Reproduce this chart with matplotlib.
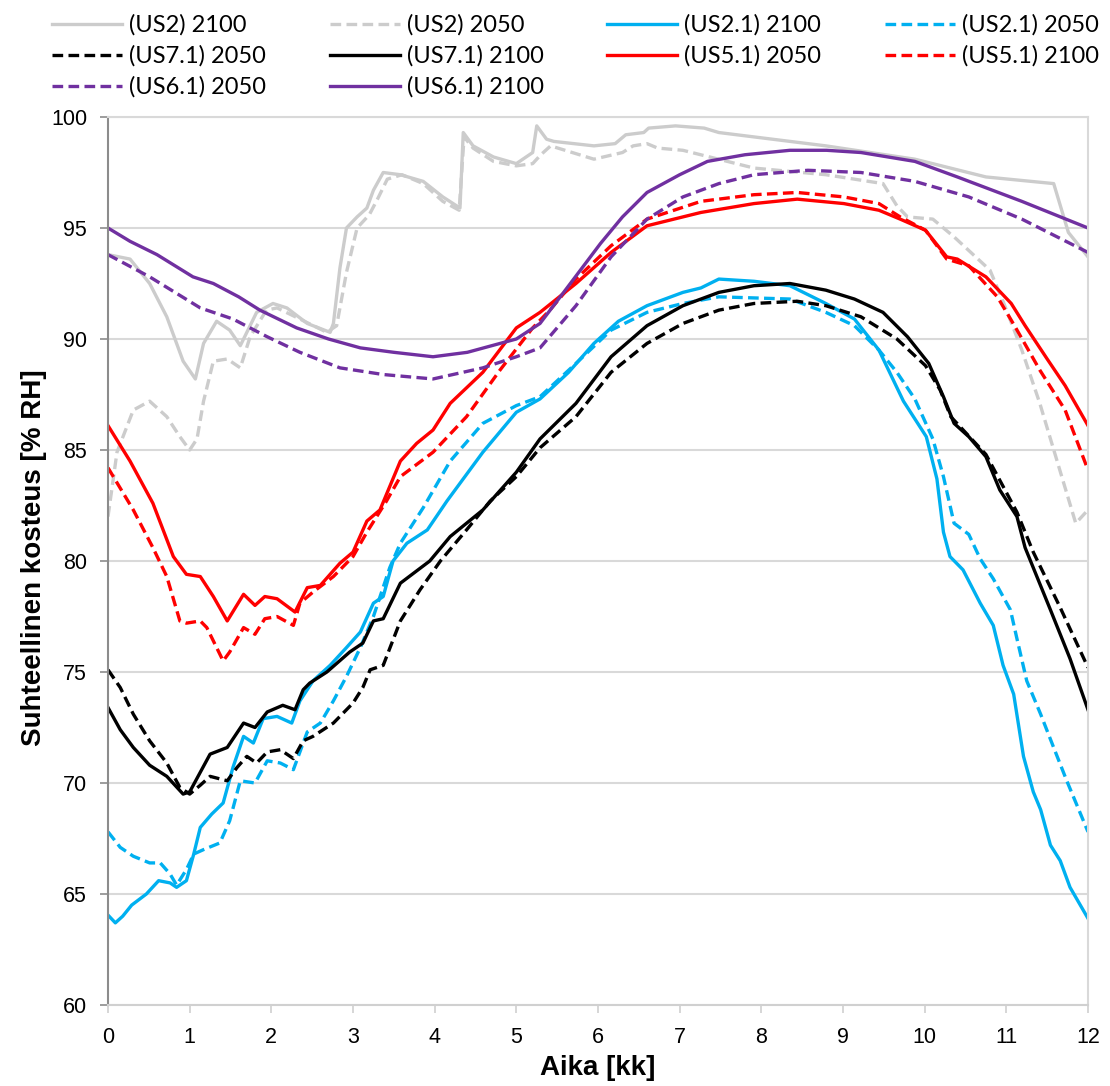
import matplotlib
matplotlib.use("Agg")
import matplotlib.pyplot as plt

# months (kk) and relative humidity (% RH)
us2_2100_x = [0, 0.27, 0.51, 0.72, 0.92, 1.07, 1.17, 1.33, 1.49, 1.62, 1.82, 2.02, 2.19, 2.44, 2.72, 2.76,
              2.84, 2.92, 3.05, 3.17, 3.25, 3.37, 3.58, 3.86, 4.1, 4.31, 4.35, 4.47, 4.72, 5.0, 5.2, 5.25,
              5.37, 5.46, 5.95, 6.21, 6.34, 6.56, 6.62, 6.95, 7.3, 7.48, 8.79, 9.88, 10.75, 11.58, 11.76, 12]
us2_2100_y = [93.8, 93.6, 92.5, 91.0, 89.0, 88.2, 89.8, 90.8, 90.4, 89.7, 91.2, 91.6, 91.4, 90.7, 90.3, 90.7,
              93.2, 95.0, 95.5, 95.9, 96.7, 97.5, 97.4, 97.1, 96.4, 95.9, 99.3, 98.7, 98.2, 97.9, 98.4, 99.6,
              99.0, 98.9, 98.7, 98.8, 99.2, 99.3, 99.5, 99.6, 99.5, 99.3, 98.7, 98.1, 97.3, 97.0, 94.8, 93.7]

us2_2050_x = [0, 0.11, 0.31, 0.51, 0.72, 0.88, 1.0, 1.09, 1.17, 1.29, 1.46, 1.62, 1.74, 1.94, 2.07, 2.35,
              2.68, 2.8, 2.92, 3.05, 3.2, 3.3, 3.42, 3.6, 3.86, 4.1, 4.3, 4.36, 4.47, 4.72, 5.0, 5.2, 5.3,
              5.42, 5.95, 6.3, 6.43, 6.6, 6.73, 7.04, 7.91, 8.79, 9.49, 9.66, 9.79, 10.1, 10.36, 10.8,
              10.97, 11.19, 11.41, 11.63, 11.85, 12]
us2_2050_y = [82.0, 84.9, 86.8, 87.2, 86.5, 85.6, 85.0, 85.5, 87.2, 89.0, 89.1, 88.7, 90.1, 91.3, 91.4, 90.9,
              90.3, 90.6, 93.0, 95.0, 95.6, 96.3, 97.2, 97.4, 97.0, 96.2, 95.8, 99.1, 98.6, 98.0, 97.8, 97.9,
              98.3, 98.7, 98.1, 98.4, 98.7, 98.8, 98.6, 98.5, 97.7, 97.4, 97.0, 96.0, 95.5, 95.4, 94.6, 93.1,
              91.6, 89.5, 87.1, 84.4, 81.7, 82.3]

us21_2100_x = [0, 0.09, 0.18, 0.29, 0.47, 0.62, 0.76, 0.84, 0.96, 1.05, 1.13, 1.27, 1.41, 1.53, 1.66, 1.78,
               1.9, 2.07, 2.25, 2.35, 2.51, 2.72, 2.92, 3.09, 3.25, 3.37, 3.49, 3.66, 3.91, 4.15, 4.59, 5.0,
               5.29, 5.64, 5.95, 6.25, 6.6, 7.04, 7.26, 7.48, 7.91, 8.35, 8.79, 9.14, 9.44, 9.74, 10.02,
               10.15, 10.23, 10.31, 10.47, 10.68, 10.84, 10.96, 11.09, 11.21, 11.33, 11.42, 11.54, 11.66,
               11.78, 12]
us21_2100_y = [64.05, 63.7, 64.0, 64.5, 65.0, 65.6, 65.5, 65.3, 65.6, 66.8, 68.0, 68.6, 69.1, 70.7, 72.1, 71.8,
               72.9, 73.0, 72.7, 73.7, 74.6, 75.3, 76.1, 76.8, 78.1, 78.4, 80.0, 80.8, 81.4, 82.7, 84.9, 86.7,
               87.3, 88.5, 89.8, 90.8, 91.5, 92.1, 92.3, 92.7, 92.6, 92.4, 91.6, 90.9, 89.5, 87.2, 85.6,
               83.7, 81.3, 80.2, 79.6, 78.1, 77.1, 75.3, 74.0, 71.2, 69.6, 68.8, 67.2, 66.5,
               65.3, 63.9]

us21_2050_x = [0, 0.15, 0.31, 0.51, 0.64, 0.76, 0.84, 0.96, 1.05, 1.17, 1.37, 1.49, 1.62, 1.8, 1.95, 2.11,
               2.27, 2.44, 2.6, 2.76, 2.92, 3.09, 3.25, 3.45, 3.58, 3.86, 4.19, 4.59, 5.0, 5.29, 5.73, 6.16,
               6.6, 7.04, 7.48, 8.35, 8.79, 9.14, 9.44, 9.66, 9.88, 10.1, 10.23, 10.36, 10.54, 10.68, 10.84,
               11.05, 11.13, 11.25, 11.42, 11.59, 11.74, 12]
us21_2050_y = [67.8, 67.1, 66.7, 66.4, 66.4, 65.9, 65.4, 66.1, 66.8, 67.0, 67.3, 68.3, 70.1, 70.0, 71.0, 70.9,
               70.6, 72.3, 72.7, 73.7, 74.8, 76.1, 77.5, 79.7, 80.8, 82.4, 84.5, 86.2, 87.0, 87.4, 88.9, 90.4,
               91.2, 91.6, 91.9, 91.8, 91.2, 90.6, 89.5, 88.5, 87.3, 85.5, 83.8, 81.7, 81.2, 80.1, 79.2,
               77.8, 76.5, 74.6, 73.1, 71.5, 70.1, 67.8]

us71_2100_x = [0, 0.15, 0.31, 0.51, 0.72, 0.92, 1.0, 1.25, 1.46, 1.66, 1.8, 1.95, 2.14, 2.29, 2.39, 2.47,
               2.68, 2.96, 3.12, 3.25, 3.37, 3.58, 3.94, 4.19, 4.59, 5.0, 5.29, 5.73, 6.16, 6.6, 7.04, 7.48,
               7.91, 8.35, 8.79, 9.14, 9.49, 9.79, 10.05, 10.23, 10.36, 10.54, 10.75, 10.92, 11.13, 11.23,
               11.54, 11.78, 12]
us71_2100_y = [73.4, 72.4, 71.6, 70.8, 70.3, 69.5, 69.6, 71.3, 71.6, 72.7, 72.5, 73.2, 73.5, 73.3, 74.2, 74.5,
               75.0, 75.9, 76.3, 77.3, 77.4, 79.0, 80.0, 81.1, 82.3, 84.0, 85.5, 87.1, 89.2, 90.6, 91.5, 92.1,
               92.4, 92.5, 92.2, 91.8, 91.2, 90.1, 88.9, 87.4, 86.2, 85.6, 84.7, 83.2, 82.0, 80.6,
               77.8, 75.6, 73.3]

us71_2050_x = [0, 0.15, 0.31, 0.51, 0.72, 0.88, 1.0, 1.13, 1.25, 1.46, 1.58, 1.7, 1.82, 1.95, 2.11, 2.27,
               2.39, 2.51, 2.76, 3.0, 3.12, 3.21, 3.37, 3.58, 3.82, 4.07, 4.39, 4.68, 5.0, 5.29, 5.73, 6.16,
               6.6, 7.04, 7.48, 7.91, 8.44, 8.79, 9.22, 9.66, 10.01, 10.19, 10.32, 10.75, 11.13, 11.33,
               11.66, 12]
us71_2050_y = [75.1, 74.3, 73.1, 71.9, 70.9, 69.8, 69.5, 69.9, 70.3, 70.1, 70.7, 71.2, 70.9, 71.4, 71.5, 71.1,
               71.9, 72.1, 72.7, 73.6, 74.3, 75.1, 75.3, 77.3, 78.7, 80.0, 81.4, 82.7, 83.8, 85.1, 86.5, 88.5,
               89.8, 90.7, 91.3, 91.6, 91.7, 91.5, 91.0, 90.0, 88.8, 87.7, 86.5, 84.8, 82.2, 80.4,
               77.9, 75.2]

us51_solid_x = [0, 0.27, 0.55, 0.8, 0.96, 1.13, 1.29, 1.46, 1.66, 1.8, 1.92, 2.07, 2.29, 2.44, 2.6, 2.84,
                3.0, 3.17, 3.33, 3.58, 3.78, 3.98, 4.19, 4.59, 5.0, 5.29, 5.73, 6.16, 6.6, 7.26, 7.91, 8.44,
                9.01, 9.44, 9.7, 10.01, 10.27, 10.4, 10.75, 11.06, 11.23, 11.5, 11.72, 12]
us51_solid_y = [86.1, 84.5, 82.6, 80.2, 79.4, 79.3, 78.4, 77.3, 78.5, 78.0, 78.4, 78.3, 77.7, 78.8, 78.9, 79.9,
                80.4, 81.8, 82.3, 84.5, 85.3, 85.9, 87.1, 88.5, 90.5, 91.2, 92.5, 93.9, 95.1, 95.7, 96.1, 96.3,
                96.1, 95.8, 95.4, 94.9, 93.7, 93.6, 92.8, 91.6, 90.6, 89.1, 87.9, 86.1]

us51_dash_x = [0, 0.31, 0.55, 0.72, 0.88, 0.96, 1.13, 1.21, 1.33, 1.41, 1.49, 1.66, 1.8, 1.92, 2.07, 2.27,
               2.35, 2.51, 2.76, 3.0, 3.17, 3.41, 3.58, 3.98, 4.39, 4.8, 5.2, 5.41, 5.73, 6.16, 6.6, 7.26,
               7.91, 8.44, 9.01, 9.44, 9.7, 10.01, 10.27, 10.54, 10.89, 11.1, 11.41, 11.72, 12]
us51_dash_y = [84.2, 82.3, 80.6, 79.3, 77.3, 77.2, 77.3, 77.0, 76.1, 75.5, 75.9, 77.0, 76.7, 77.4, 77.5, 77.1,
               78.1, 78.6, 79.3, 80.2, 81.3, 82.7, 83.8, 84.9, 86.5, 88.6, 90.5, 91.3, 92.7, 94.2, 95.4, 96.2,
               96.5, 96.6, 96.4, 96.1, 95.5, 94.9, 93.6, 93.3, 91.9, 90.6, 88.6, 86.8, 84.1]

us61_2100_x = [0, 0.27, 0.6, 1.04, 1.29, 1.6, 1.86, 2.31, 2.7, 3.09, 3.5, 3.98, 4.4, 4.8, 5.0, 5.29, 5.6,
               6.03, 6.3, 6.6, 7.0, 7.34, 7.8, 8.35, 8.8, 9.22, 9.88, 10.4, 11.19, 12]
us61_2100_y = [95.0, 94.4, 93.8, 92.8, 92.5, 91.9, 91.3, 90.5, 90.0, 89.6, 89.4, 89.2, 89.4, 89.8, 90.0, 90.7,
               92.2, 94.3, 95.5, 96.6, 97.4, 98.0, 98.3, 98.5, 98.5, 98.4, 98.0, 97.3, 96.2, 95.0]

us61_2050_x = [0, 0.51, 1.13, 1.53, 1.95, 2.35, 2.84, 3.37, 3.98, 4.59, 5.0, 5.29, 5.73, 6.16, 6.6, 7.04,
               7.48, 7.91, 8.57, 9.22, 9.88, 10.54, 11.19, 12]
us61_2050_y = [93.8, 92.8, 91.4, 90.9, 90.1, 89.4, 88.7, 88.4, 88.2, 88.7, 89.2, 89.6, 91.5, 93.7, 95.4, 96.4,
               97.0, 97.4, 97.6, 97.5, 97.1, 96.4, 95.4, 93.9]

GRAY = "#cccccc"
CYAN = "#00b0f0"
RED = "#ff0000"
PURPLE = "#7030a0"
DASH = (3.2, 1.6)

fig = plt.figure(figsize=(11.1, 10.86), dpi=100)
ax = fig.add_axes([108 / 1110, 81 / 1086, 980 / 1110, 888 / 1086])

lw = 2.4
series = [
    # (x, y, color, dashed, label)
    (us2_2100_x, us2_2100_y, GRAY, False, "(US2) 2100"),
    (us2_2050_x, us2_2050_y, GRAY, True, "(US2) 2050"),
    (us21_2100_x, us21_2100_y, CYAN, False, "(US2.1) 2100"),
    (us21_2050_x, us21_2050_y, CYAN, True, "(US2.1) 2050"),
    (us71_2050_x, us71_2050_y, "black", True, "(US7.1) 2050"),
    (us71_2100_x, us71_2100_y, "black", False, "(US7.1) 2100"),
    (us51_solid_x, us51_solid_y, RED, False, "(US5.1) 2050"),
    (us51_dash_x, us51_dash_y, RED, True, "(US5.1) 2100"),
    (us61_2050_x, us61_2050_y, PURPLE, True, "(US6.1) 2050"),
    (us61_2100_x, us61_2100_y, PURPLE, False, "(US6.1) 2100"),
]

handles = []
for x, y, c, dashed, label in series:
    line, = ax.plot(x, y, color=c, lw=lw, label=label, solid_joinstyle="round")
    if dashed:
        line.set_dashes(DASH)
    handles.append(line)

ax.set_xlim(0, 12)
ax.set_ylim(60, 100)
ax.set_xticks(range(0, 13))
ax.set_yticks(range(60, 101, 5))
ax.yaxis.grid(True, color="#d9d9d9", lw=1.5)
ax.set_axisbelow(True)

for side in ["top", "right"]:
    ax.spines[side].set_color("#d9d9d9")
    ax.spines[side].set_linewidth(1.5)
ax.spines["left"].set_color("#8c8c8c")
ax.spines["left"].set_linewidth(1.5)
ax.spines["bottom"].set_color("#d0d0d0")
ax.spines["bottom"].set_linewidth(1.5)

ax.tick_params(axis="y", length=6, width=1.2, color="#8c8c8c", pad=9)
ax.tick_params(axis="x", length=6, width=1.2, color="#d0d0d0", pad=10)
for t in ax.get_xticklabels() + ax.get_yticklabels():
    t.set_fontfamily("Liberation Sans")
    t.set_fontsize(15.5)

fig.text(598 / 1110, 1 - 1068 / 1086, "Aika [kk]", ha="center", va="center",
         fontsize=20, fontweight="bold", family="Liberation Sans")
fig.text(34 / 1110, 1 - 558 / 1086, "Suhteellinen kosteus [% RH]", ha="center", va="center",
         rotation=90, fontsize=20, fontweight="bold", family="Liberation Sans")

# legend filled row by row like the original (matplotlib fills columns)
order = [0, 4, 8, 1, 5, 9, 2, 6, 3, 7]
leg = fig.legend([handles[i] for i in order], [series[i][4] for i in order],
                 loc="upper left", bbox_to_anchor=(43 / 1110, 1 - 5 / 1086), ncol=4,
                 frameon=False, prop={"family": "Lato", "size": 17},
                 handlelength=2.95, handletextpad=0.3, columnspacing=2.7,
                 labelspacing=0.4, borderaxespad=0)

fig.savefig("out.png", dpi=100)
